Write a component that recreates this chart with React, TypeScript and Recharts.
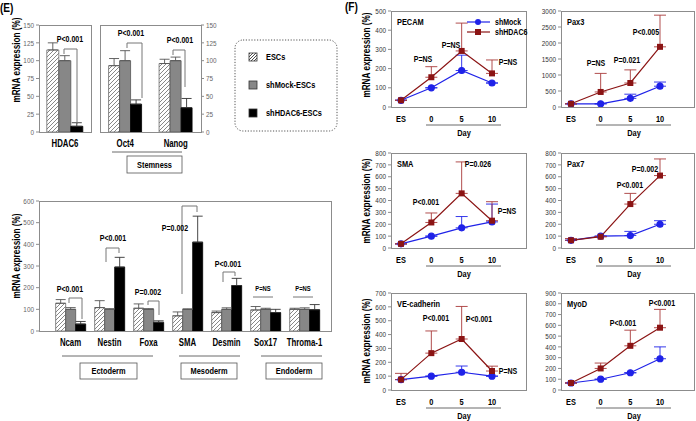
import React from "react";
import { BarChart, Bar, LineChart, Line, XAxis, YAxis, ErrorBar } from "recharts";

const FONT = "'Liberation Sans', Arial, sans-serif";
const SX = 0.78;
const BLUE = "#1f22e8";
const RED = "#8b1414";
const FRAME = "#8c8c8c";

// (E) HDAC6 level
const hdacGenes = ["HDAC6"];
const hdacEsc = [115];
const hdacEscErr = [10];
const hdacMock = [100];
const hdacMockErr = [7];
const hdacKd = [8];
const hdacKdErr = [5];

// (E) stemness markers
const stemGenes = ["Oct4", "Nanog"];
const stemEsc = [93, 96];
const stemEscErr = [10, 6];
const stemMock = [100, 100];
const stemMockErr = [14, 5];
const stemKd = [39, 34];
const stemKdErr = [6, 13];

// (E) lineage markers
const lineGenes = ["Ncam", "Nestin", "Foxa", "SMA", "Desmin", "Sox17", "Throma-1"];
const lineEsc = [128, 108, 105, 70, 85, 97, 100];
const lineEscErr = [17, 32, 20, 18, 7, 16, 5];
const lineMock = [100, 100, 100, 100, 100, 100, 100];
const lineMockErr = [8, 3, 3, 2, 7, 5, 7];
const lineKd = [32, 295, 40, 410, 210, 85, 98];
const lineKdErr = [12, 45, 7, 120, 33, 15, 24];

// (F) time course
const days = ["ES", "0", "5", "10"];
const pecamMock = [35, 100, 190, 125];
const pecamMockErr = [0, 0, 80, 0];
const pecamKd = [35, 155, 292, 175];
const pecamKdErr = [0, 55, 145, 70];
const pax3Mock = [100, 100, 270, 650];
const pax3MockErr = [0, 0, 130, 130];
const pax3Kd = [100, 470, 750, 1880];
const pax3KdErr = [0, 580, 410, 990];
const smaMock = [35, 100, 170, 220];
const smaMockErr = [0, 0, 95, 150];
const smaKd = [35, 215, 460, 230];
const smaKdErr = [0, 80, 265, 160];
const pax7Mock = [65, 100, 105, 200];
const pax7MockErr = [0, 0, 35, 30];
const pax7Kd = [65, 95, 370, 610];
const pax7KdErr = [15, 0, 90, 140];
const veMock = [75, 100, 128, 100];
const veMockErr = [0, 0, 45, 0];
const veKd = [75, 266, 368, 137];
const veKdErr = [45, 160, 235, 35];
const myodMock = [65, 100, 160, 290];
const myodMockErr = [0, 0, 0, 110];
const myodKd = [65, 200, 410, 578];
const myodKdErr = [0, 50, 145, 170];

const barRows = (genes, esc, escErr, mock, mockErr, kd, kdErr) =>
  genes.map((g, i) => ({
    gene: g,
    esc: esc[i],
    escErr: [0, escErr[i]],
    mock: mock[i],
    mockErr: [0, mockErr[i]],
    kd: kd[i],
    kdErr: [0, kdErr[i]],
  }));

const dayRows = (mock, mockErr, kd, kdErr) =>
  days.map((d, i) => ({
    day: d,
    mock: mock[i],
    mockErr: [0, mockErr[i]],
    kd: kd[i],
    kdErr: [0, kdErr[i]],
  }));

const hatch = (id) => (
  <defs>
    <pattern id={id} patternUnits="userSpaceOnUse" width={4} height={4}>
      <rect width={4} height={4} fill="#fff" />
      <path d="M-1,1 l2,-2 M0,4 l4,-4 M3,5 l2,-2" stroke="#6a6a6a" strokeWidth={0.8} />
    </pattern>
  </defs>
);

// narrow text: the figure uses a condensed bold face
const NT = ({ x, y, size = 9, anchor = "middle", weight = 700, fill = "#000", rot = false, children }) => (
  <text
    transform={`translate(${x},${y})${rot ? " rotate(-90)" : ""} scale(${SX},1)`}
    textAnchor={anchor}
    dominantBaseline="central"
    fontSize={size}
    fontWeight={weight}
    fill={fill}
    fontFamily={FONT}
  >
    {children}
  </text>
);

const tickFn = (size, fill, weight, sx) => (p) => {
  const { x, y, payload, textAnchor, verticalAnchor } = p;
  return (
    <text
      transform={`translate(${x},${y}) scale(${sx},1)`}
      textAnchor={textAnchor}
      dy={verticalAnchor === "start" ? "0.71em" : "0.355em"}
      fontSize={size}
      fontWeight={weight}
      fill={fill}
      fontFamily={FONT}
    >
      {payload.value}
    </text>
  );
};

const eTick = tickFn(7.5, "#666", 400, 0.85);
const catTick = tickFn(10, "#000", 700, SX);
const dayTick = tickFn(9.5, "#000", 700, SX);
const fTick = tickFn(7.5, "#333", 400, 0.85);

function TripleBars({ data, width, height, margin, ticks, max, right, gap, pad, id }) {
  return (
    <BarChart width={width} height={height} data={data} margin={margin} barGap={0} barCategoryGap={gap}>
      {hatch(id)}
      <XAxis dataKey="gene" axisLine={false} tickLine={false} height={20} tick={catTick} interval={0} padding={pad} />
      <YAxis
        orientation={right ? "right" : "left"}
        width={right ? 29 : 39}
        domain={[0, max]}
        ticks={ticks}
        axisLine={false}
        tickSize={3}
        tickLine={{ stroke: FRAME }}
        tick={eTick}
        interval={0}
      />
      <Bar dataKey="esc" fill={`url(#${id})`} stroke="#6a6a6a" strokeWidth={0.8} isAnimationActive={false}>
        <ErrorBar dataKey="escErr" direction="y" width={5} stroke="#555" strokeWidth={0.9} />
      </Bar>
      <Bar dataKey="mock" fill="#878787" stroke="#555" strokeWidth={0.8} isAnimationActive={false}>
        <ErrorBar dataKey="mockErr" direction="y" width={5} stroke="#555" strokeWidth={0.9} />
      </Bar>
      <Bar dataKey="kd" fill="#000" stroke="#000" strokeWidth={0.8} isAnimationActive={false}>
        <ErrorBar dataKey="kdErr" direction="y" width={5} stroke="#333" strokeWidth={0.9} />
      </Bar>
    </BarChart>
  );
}

const Sq = (p) => (
  <rect key={`sq-${p.index}`} x={p.cx - 3} y={p.cy - 3} width={6} height={6} fill={RED} />
);

function DayChart({ L, R, T, B, max, step, data }) {
  const ticks = [];
  for (let v = 0; v <= max; v += step) ticks.push(v);
  const left = L - 40;
  const top = T - 10;
  return (
    <div style={{ position: "absolute", left, top }}>
      <LineChart
        width={R - left + 2}
        height={B - T + 40}
        data={data}
        margin={{ top: 10, right: 2, bottom: 8, left: 0 }}
      >
        <XAxis
          dataKey="day"
          axisLine={false}
          tickLine={false}
          height={22}
          interval={0}
          padding={{ left: 10, right: 34 }}
          tick={dayTick}
        />
        <YAxis
          width={40}
          domain={[0, max]}
          ticks={ticks}
          interval={0}
          axisLine={false}
          tickSize={3}
          tickLine={{ stroke: FRAME }}
          tick={fTick}
        />
        <Line
          dataKey="mock"
          stroke={BLUE}
          strokeWidth={1.2}
          dot={{ r: 3, fill: BLUE, stroke: BLUE }}
          isAnimationActive={false}
        >
          <ErrorBar dataKey="mockErr" direction="y" width={6} stroke={BLUE} strokeWidth={0.9} />
        </Line>
        <Line dataKey="kd" stroke={RED} strokeWidth={1.2} dot={Sq} isAnimationActive={false}>
          <ErrorBar dataKey="kdErr" direction="y" width={6} stroke="#a83a3a" strokeWidth={0.9} />
        </Line>
      </LineChart>
    </div>
  );
}

const Frame = ({ L, R, T, B }) => (
  <div
    style={{
      position: "absolute",
      left: L,
      top: T,
      width: R - L + 1,
      height: B - T + 1,
      border: `1px solid ${FRAME}`,
      boxSizing: "border-box",
      pointerEvents: "none",
    }}
  />
);

const cols = [
  { L: 391, R: 526 },
  { L: 561, R: 694 },
];
const rows = [
  { T: 11, B: 107, title: 55 },
  { T: 153, B: 248, title: 201 },
  { T: 293, B: 390, title: 341 },
];

const panels = [
  { gene: "PECAM", c: 0, r: 0, max: 500, step: 100, data: dayRows(pecamMock, pecamMockErr, pecamKd, pecamKdErr) },
  { gene: "Pax3", c: 1, r: 0, max: 3000, step: 500, data: dayRows(pax3Mock, pax3MockErr, pax3Kd, pax3KdErr) },
  { gene: "SMA", c: 0, r: 1, max: 800, step: 100, data: dayRows(smaMock, smaMockErr, smaKd, smaKdErr) },
  { gene: "Pax7", c: 1, r: 1, max: 800, step: 100, data: dayRows(pax7Mock, pax7MockErr, pax7Kd, pax7KdErr) },
  { gene: "VE-cadherin", c: 0, r: 2, max: 700, step: 100, data: dayRows(veMock, veMockErr, veKd, veKdErr) },
  { gene: "MyoD", c: 1, r: 2, max: 900, step: 100, data: dayRows(myodMock, myodMockErr, myodKd, myodKdErr) },
];

const pLabels = [
  // E top
  ["P<0.001", 70, 39], ["P<0.001", 131, 33], ["P<0.001", 180, 40],
  // E bottom
  ["P<0.001", 70, 289], ["P<0.001", 113, 238], ["P=0.002", 148, 292],
  ["P=0.002", 175, 228], ["P<0.001", 228, 264],
  // F
  ["P=NS", 423, 59], ["P=NS", 451, 45], ["P=NS", 508, 62],
  ["P=NS", 596, 63], ["P=0.021", 627, 60], ["P<0.005", 646, 32],
  ["P<0.001", 426, 202], ["P=0.026", 478, 164], ["P=NS", 507, 211],
  ["P<0.001", 630, 185], ["P=0.002", 645, 169],
  ["P<0.001", 436, 318], ["P<0.001", 479, 319], ["P=NS", 508, 371],
  ["P<0.001", 623, 323], ["P<0.001", 662, 303],
];

const brackets = [
  "M64,54 V49 H77 V124",
  "M127,48 V43 H142 V98",
  "M173,55 V50 H185 V87",
  "M69,303 V298 H82 V319",
  "M106,262 V248 H119 V253",
  "M148,305 V301 H159 V315",
  "M182,294 V206 H197 V212",
  "M223,282 V272 H235 V276",
  "M253,297 H273",
  "M293,297 H313",
];

const groupLines = [
  [112, 182, 152],
  [62, 153, 356],
  [179, 240, 356],
  [261, 322, 356],
];

const groupBoxes = [
  ["Stemness", 127, 182, 156, 173],
  ["Ectoderm", 80, 137, 363, 379],
  ["Mesoderm", 181, 237, 363, 379],
  ["Endoderm", 266, 322, 363, 379],
];

const legendE = [
  ["ESCs", "hatch"],
  ["shMock-ESCs", "#878787"],
  ["shHDAC6-ESCs", "#000"],
];

export default function App() {
  const hdacData = barRows(hdacGenes, hdacEsc, hdacEscErr, hdacMock, hdacMockErr, hdacKd, hdacKdErr);
  const stemData = barRows(stemGenes, stemEsc, stemEscErr, stemMock, stemMockErr, stemKd, stemKdErr);
  const lineData = barRows(lineGenes, lineEsc, lineEscErr, lineMock, lineMockErr, lineKd, lineKdErr);
  const eTicks150 = [0, 25, 50, 75, 100, 125, 150];
  return (
    <div
      style={{
        position: "absolute",
        left: 0,
        top: 0,
        width: 696,
        height: 421,
        background: "#fff",
        overflow: "hidden",
        fontFamily: FONT,
      }}
    >
      <div style={{ position: "absolute", left: 0, top: 0 }}>
        <TripleBars
          id="hA"
          data={hdacData}
          width={100}
          height={160}
          margin={{ top: 25, right: 9, bottom: 8, left: 0 }}
          ticks={eTicks150}
          max={150}
          gap="15%"
        />
      </div>
      <div style={{ position: "absolute", left: 90, top: 0 }}>
        <TripleBars
          id="hB"
          data={stemData}
          width={140}
          height={160}
          margin={{ top: 25, right: 0, bottom: 8, left: 10 }}
          ticks={eTicks150}
          max={150}
          right
          gap="17%"
        />
      </div>
      <div style={{ position: "absolute", left: 0, top: 180 }}>
        <TripleBars
          id="hC"
          data={lineData}
          width={340}
          height={180}
          margin={{ top: 21, right: 9, bottom: 9, left: 0 }}
          ticks={[0, 100, 200, 300, 400, 500, 600]}
          max={600}
          gap="12%"
          pad={{ left: 12, right: 7 }}
        />
      </div>
      <Frame L={39} R={91} T={25} B={132} />
      <Frame L={100} R={201} T={25} B={132} />
      <Frame L={39} R={331} T={201} B={331} />

      {panels.map((p) => {
        const { L, R } = cols[p.c];
        const { T, B } = rows[p.r];
        return (
          <React.Fragment key={p.gene}>
            <DayChart L={L} R={R} T={T} B={B} max={p.max} step={p.step} data={p.data} />
            <Frame L={L} R={R} T={T} B={B} />
          </React.Fragment>
        );
      })}

      <svg
        width={696}
        height={421}
        style={{ position: "absolute", left: 0, top: 0, pointerEvents: "none" }}
        fontFamily={FONT}
      >
        <defs>
          <pattern id="hL" patternUnits="userSpaceOnUse" width={3} height={3}>
            <rect width={3} height={3} fill="#fff" />
            <path d="M-1,1 l2,-2 M0,3 l3,-3 M2,4 l2,-2" stroke="#222" strokeWidth={0.8} />
          </pattern>
        </defs>
        <NT x={0} y={7} size={13} anchor="start">(E)</NT>
        <NT x={345} y={6} size={13} anchor="start">(F)</NT>

        {/* y titles */}
        <NT x={16} y={60} size={10.5} rot>mRNA expression (%)</NT>
        <NT x={16} y={256} size={10.5} rot>mRNA expression (%)</NT>
        {rows.map((r, i) => (
          <NT key={i} x={366} y={r.title} size={10.5} rot>
            mRNA expression (%)
          </NT>
        ))}

        {brackets.map((d, i) => (
          <path key={i} d={d} fill="none" stroke="#777" strokeWidth={1} />
        ))}
        {groupLines.map(([a, b, y], i) => (
          <line key={i} x1={a} x2={b} y1={y} y2={y} stroke="#444" strokeWidth={0.8} />
        ))}
        {groupBoxes.map(([t, a, b, y0, y1]) => (
          <g key={t}>
            <rect x={a} y={y0} width={b - a} height={y1 - y0} fill="#fff" stroke="#555" strokeWidth={0.8} />
            <NT x={(a + b) / 2} y={(y0 + y1) / 2} size={9.5}>
              {t}
            </NT>
          </g>
        ))}

        {pLabels.map(([t, x, y], i) => (
          <NT key={i} x={x} y={y} size={9}>
            {t}
          </NT>
        ))}
        <NT x={263} y={288} size={7.5}>P=NS</NT>
        <NT x={303} y={288} size={7.5}>P=NS</NT>

        {/* E legend */}
        <rect x={235} y={40} width={102} height={91} rx={8} fill="none" stroke="#555" strokeWidth={1} strokeDasharray="1.2 1.6" />
        {legendE.map(([t, f], i) => (
          <g key={t}>
            <rect
              x={249}
              y={53 + i * 28}
              width={8}
              height={8}
              fill={f === "hatch" ? "url(#hL)" : f}
              stroke="#333"
              strokeWidth={0.8}
            />
            <NT x={266} y={57 + i * 28} size={9.5} anchor="start">
              {t}
            </NT>
          </g>
        ))}

        {/* F decorations */}
        {panels.map((p) => {
          const { L } = cols[p.c];
          const { T, B } = rows[p.r];
          return (
            <g key={p.gene}>
              <NT x={L + 6} y={T + 11} size={9.5} anchor="start">
                {p.gene}
              </NT>
              <line x1={L + 35} x2={L + 110} y1={B + 18} y2={B + 18} stroke="#444" strokeWidth={0.8} />
              <NT x={L + 73} y={B + 26} size={9.5}>
                Day
              </NT>
            </g>
          );
        })}

        {/* F legend */}
        <line x1={467} x2={490} y1={22} y2={22} stroke={BLUE} strokeWidth={1.2} />
        <circle cx={478} cy={22} r={3} fill={BLUE} />
        <NT x={495} y={22} size={9} anchor="start">shMock</NT>
        <line x1={467} x2={490} y1={32} y2={32} stroke={RED} strokeWidth={1.2} />
        <rect x={475} y={29} width={6} height={6} fill={RED} />
        <NT x={495} y={32} size={9} anchor="start">shHDAC6</NT>
      </svg>
    </div>
  );
}
